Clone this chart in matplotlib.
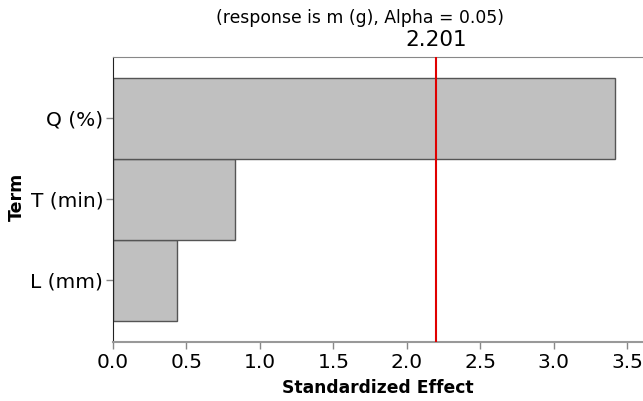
import matplotlib
matplotlib.use("Agg")
import matplotlib.pyplot as plt

terms = ["L (mm)", "T (min)", "Q (%)"]
effects = [0.436, 0.828, 3.419]
critical = 2.201
title = "(response is m (g), Alpha = 0.05)"
xticks = [0.0, 0.5, 1.0, 1.5, 2.0, 2.5, 3.0, 3.5]

plt.rcParams['font.family'] = ['DejaVu Sans']
fig = plt.figure(figsize=(6.43, 4.01), dpi=100)
ax = fig.add_axes([113/643, (401-341.5)/401, 530/643, 284.5/401])

ypos = list(range(len(terms)))
ax.barh(ypos, effects, height=1.0, color="#c0c0c0", edgecolor="#555555", linewidth=1.0, zorder=2)
ax.axvline(critical, color="#e00000", linewidth=1.5, zorder=3)
ax.text(critical, 1.025, f"{critical:.3f}", transform=ax.get_xaxis_transform(),
        ha="center", va="bottom", fontsize=15.5)

ax.set_xlim(0, 3.608)
ax.set_ylim(-0.753, 2.755)
ax.set_yticks(ypos)
ax.set_yticklabels(terms, fontsize=14.5)
ax.set_xticks(xticks)
ax.set_xticklabels([f"{t:.1f}" for t in xticks], fontsize=14.5)
ax.tick_params(axis="both", direction="out", length=5, color="#888888", width=1)
ax.tick_params(axis="x", pad=3)
ax.tick_params(axis="y", pad=2)

ax.spines["right"].set_visible(False)
ax.spines["top"].set_color("#888888")
ax.spines["bottom"].set_color("#999999")
ax.spines["bottom"].set_linewidth(1.5)
ax.spines["left"].set_color("#222222")

ax.set_xlabel("Standardized Effect", fontsize=12.3, fontweight="bold", labelpad=5)
ax.set_ylabel("Term", fontsize=12.5, fontweight="bold")
ax.yaxis.set_label_coords((17 - 113) / 530, (401 - 197 - 59.5) / 284.5)
ax.yaxis.label.set_va("center")
fig.text(360/643, 1 - 18/401, title, ha="center", va="center", fontsize=12.4)

fig.savefig("out.png", dpi=100)
